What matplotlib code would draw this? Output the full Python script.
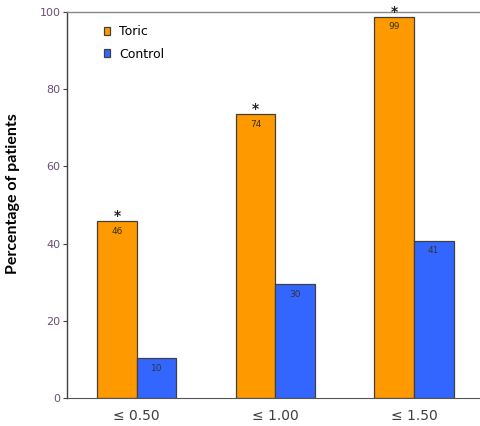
import numpy as np
import matplotlib.pyplot as plt

"""Data read off the chart."""
categories = ['≤ 0.50', '≤ 1.00', '≤ 1.50']
toric = [45.9, 73.6, 98.8]
control = [10.3, 29.5, 40.8]
toric_labels = ['46', '74', '99']
control_labels = ['10', '30', '41']

orange = '#FF9900'
blue = '#3366FF'
edge = '#404040'

fig = plt.figure(figsize=(4.8, 4.26), dpi=100)
ax = fig.add_axes([0.1404, 0.0657, 0.8665, 0.9061])

x = np.arange(len(categories))
w = 0.285
b1 = ax.bar(x - w/2, toric, w, color=orange, edgecolor=edge, linewidth=0.9, label='Toric')
b2 = ax.bar(x + w/2, control, w, color=blue, edgecolor=edge, linewidth=0.9, label='Control')

"""Value labels just inside the top of each bar, asterisks above toric."""
for i in range(len(x)):
    ax.text(x[i] - w/2, toric[i] - 1.5, toric_labels[i], ha='center', va='top',
            fontsize=6.5, color='#333300')
    ax.text(x[i] + w/2, control[i] - 1.5, control_labels[i], ha='center', va='top',
            fontsize=6.5, color='#333333')
    ax.text(x[i] - w/2, toric[i] + 0.2, '*', ha='center', va='baseline',
            fontsize=10, fontweight='bold', color='#222222')

ax.set_xlim(-0.5, 2.5)
ax.set_ylim(0, 100)
ax.set_yticks([0, 20, 40, 60, 80, 100])
ax.set_xticks(x)
ax.set_xticklabels(categories, fontsize=10, color='#404040')
ax.tick_params(axis='x', length=0, pad=8)
ax.tick_params(axis='y', length=3, width=0.8, color='#404040', labelsize=8,
               labelcolor='#6a4f78', pad=2)

ax.spines['left'].set_color('#404040')
ax.spines['left'].set_linewidth(1.0)
ax.spines['bottom'].set_color('#555555')
ax.spines['top'].set_color('#888888')
ax.spines['top'].set_linewidth(1.0)
ax.spines['right'].set_visible(False)

ax.set_ylabel('Percentage of patients', fontsize=11.5, fontweight='bold',
              family=['Lato', 'DejaVu Sans'])
ax.yaxis.set_label_coords(-0.113, 0.53)

ax.legend(loc='upper left', bbox_to_anchor=(0.06, 0.995), frameon=False, fontsize=9,
          handlelength=0.55, handleheight=0.55, handletextpad=0.7, labelspacing=0.75)

plt.savefig('out.png', dpi=100)
